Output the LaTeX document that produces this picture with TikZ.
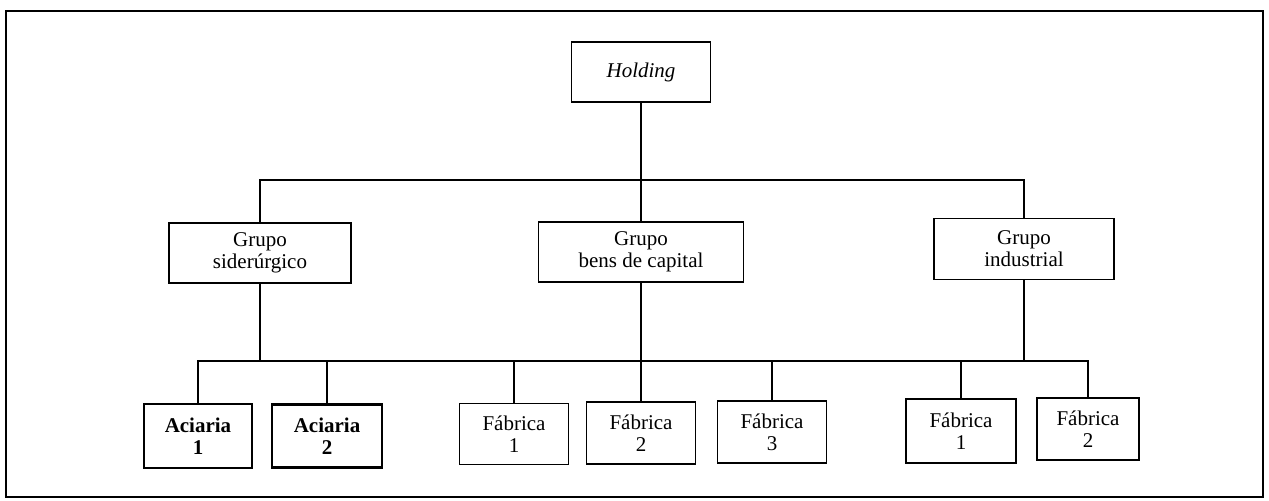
\documentclass[tikz,border=0pt]{standalone}
\usepackage{fontspec}
\setmainfont{Liberation Serif}
\usepackage{tikz}
\tikzset{
  unit/.style={draw, line width=0.8pt, align=center, inner sep=0pt, font=\fontsize{10.5}{11}\selectfont},
  heavy/.style={line width=1.2pt},
  link/.style={draw, line width=0.8pt},
}

\begin{document}
\begin{tikzpicture}[x=0.5pt, y=-0.5pt]
\useasboundingbox (0,0) rectangle (1269,500);
\draw[line width=0.8pt] (6,11) rectangle (1263,497);
\node[unit, minimum width=69.5pt, minimum height=30pt](hold) at (641,72){\textit{Holding}};
%groups
\node[unit, heavy, minimum width=91pt, minimum height=30pt](gsid) at (260,253){Grupo\\sider\'urgico};
\node[unit, minimum width=102.5pt, minimum height=30pt](gbens) at (641,252){Grupo\\bens de capital};
\node[unit, minimum width=90pt, minimum height=30.5pt](gind) at (1024,249){Grupo\\industrial};
%units
\node[unit, heavy, minimum width=54pt, minimum height=32pt, font=\fontsize{10.5}{11}\selectfont\bfseries](aci1) at (198,436){Aciaria\\1};
\node[unit, heavy, minimum width=55pt, minimum height=31.5pt, font=\fontsize{10.5}{11}\selectfont\bfseries](aci2) at (327,436){Aciaria\\2};
\node[unit, minimum width=54.5pt, minimum height=30.5pt](fab1) at (514,434){F\'abrica\\1};
\node[unit, minimum width=54.5pt, minimum height=31pt](fab2) at (641,433){F\'abrica\\2};
\node[unit, minimum width=54.5pt, minimum height=31pt](fab3) at (772,432){F\'abrica\\3};
\node[unit, minimum width=55pt, minimum height=32pt](ind1) at (961,431){F\'abrica\\1};
\node[unit, minimum width=51pt, minimum height=31pt](ind2) at (1088,429){F\'abrica\\2};
%path
\coordinate (bus1) at (641,180);
\coordinate (bus2) at (641,361);
\path[link](hold)--(gbens);
\path[link](gsid.north)|-(bus1)-|(gind.north);
\path[link](aci1.north)|-(bus2)-|(ind2.north);
\path[link](gsid.south)--(gsid.south |- bus2);
\path[link](gind.south)--(gind.south |- bus2);
\path[link](gbens.south)--(fab2.north);
\path[link](aci2.north)--(aci2.north |- bus2);
\path[link](fab1.north)--(fab1.north |- bus2);
\path[link](fab3.north)--(fab3.north |- bus2);
\path[link](ind1.north)--(ind1.north |- bus2);
\end{tikzpicture}
\end{document}
